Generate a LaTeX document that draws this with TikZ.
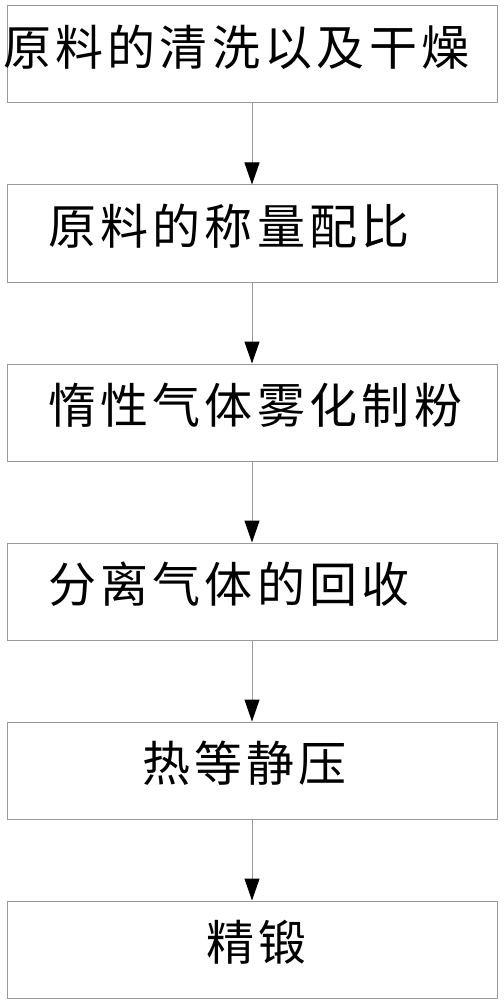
\documentclass[tikz,border=0pt]{standalone}
\usepackage{fontspec}
\newfontfamily\cjk{Noto Sans CJK SC}
\usepackage{tikz}
\usetikzlibrary{arrows.meta,positioning}

\begin{document}
\begin{tikzpicture}[
    node distance=81pt,
    box/.style={draw=gray!80, line width=1pt, minimum width=490pt, minimum height=97pt,
      inner xsep=0pt, text width=490pt, text depth=18pt, align=left,
      font=\cjk\fontsize{48}{52}\selectfont\addfontfeature{LetterSpace=9}},
    arr/.style={draw=gray!80, line width=1pt, -{Triangle[length=22pt, width=15pt, black]}}
  ]
    \useasboundingbox (0,0) rectangle (503pt,-1000pt);
    \node[box] (wash) at (252pt,-54.5pt) {\hspace*{-4pt}原料的清洗以及干燥};
    \node[box, below=of wash] (ratio) {\hspace*{41pt}原料的称量配比};
    \node[box, below=of ratio] (atomize) {\hspace*{41pt}惰性气体雾化制粉};
    \node[box, below=of atomize] (recover) {\hspace*{41pt}分离气体的回收};
    \node[box, below=of recover] (hip) {\hspace*{135pt}热等静压};
    \node[box, below=of hip] (forge) {\hspace*{199pt}精锻};
    \draw[arr] (wash) -- (ratio);
    \draw[arr] (ratio) -- (atomize);
    \draw[arr] (atomize) -- (recover);
    \draw[arr] (recover) -- (hip);
    \draw[arr] (hip) -- (forge);
  \end{tikzpicture}
\end{document}
